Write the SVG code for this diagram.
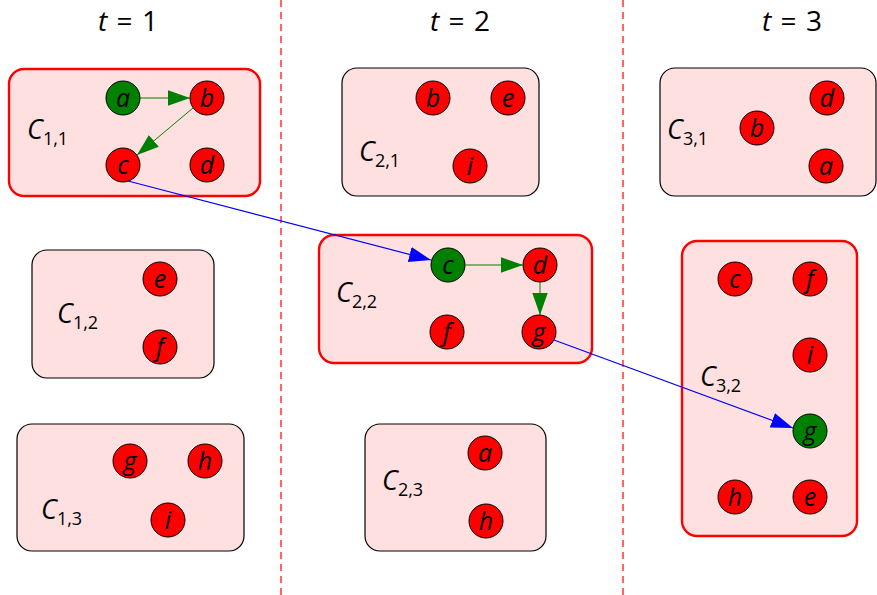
<svg xmlns="http://www.w3.org/2000/svg" width="877" height="595" viewBox="0 0 877 595">
<style>
.bg{fill:#fff}
.box{fill:#ffe0e0;stroke:#000;stroke-width:1.2}
.hl{stroke:#ff0000;stroke-width:2.4}
.n{stroke:#000;stroke-width:1}
.r{fill:#ff0000}
.gr{fill:#008000}
.nt{font-family:"Open Sans","DejaVu Sans",sans-serif;font-style:italic;font-size:25px;text-anchor:middle;fill:#000}
.lb{font-family:"Open Sans","DejaVu Sans",sans-serif;font-size:27px;fill:#000}
.lb tspan.s{font-size:18px;font-style:normal}
.ti{font-family:"Open Sans","DejaVu Sans",sans-serif;font-size:28px;fill:#000;text-anchor:middle}
.div{stroke:#ff0000;stroke-width:1.2;stroke-dasharray:7,5}
.ge{stroke:#008000;stroke-width:1;fill:none}
.be{stroke:#0000ff;stroke-width:1.2;fill:none}
</style>
<defs>
<marker id="ag" viewBox="0 0 10 10" refX="10" refY="5" markerWidth="22" markerHeight="22" markerUnits="userSpaceOnUse" orient="auto"><path d="M0,1.5 L10,5 L0,8.5 z" fill="#008000"/></marker>
<marker id="ab" viewBox="0 0 10 10" refX="10" refY="5" markerWidth="22" markerHeight="22" markerUnits="userSpaceOnUse" orient="auto"><path d="M0,1.5 L10,5 L0,8.5 z" fill="#0000ff"/></marker>
</defs>
<rect class="bg" x="0" y="0" width="877" height="595"/>
<g id="dividers">
<line class="div" x1="281" y1="0" x2="281" y2="595"/>
<line class="div" x1="623" y1="0" x2="623" y2="595"/>
</g>
<g id="titles">
<text class="ti" x="128" y="31"><tspan font-style="italic">t</tspan> <tspan dx="2">=</tspan> <tspan dx="2">1</tspan></text>
<text class="ti" x="460" y="31"><tspan font-style="italic">t</tspan> <tspan dx="2">=</tspan> <tspan dx="2">2</tspan></text>
<text class="ti" x="792" y="31"><tspan font-style="italic">t</tspan> <tspan dx="2">=</tspan> <tspan dx="2">3</tspan></text>
</g>
<g id="C11">
<rect class="box hl" x="9" y="69" width="251" height="127" rx="15"/>
<text class="lb" x="27" y="139"><tspan font-style="italic">C</tspan><tspan class="s" dy="6">1,1</tspan></text>
<circle class="n gr" cx="123" cy="98" r="17"/><text class="nt" x="123" y="107">a</text>
<circle class="n r" cx="207" cy="98" r="17"/><text class="nt" x="207" y="107">b</text>
<circle class="n r" cx="123" cy="165" r="17"/><text class="nt" x="123" y="174">c</text>
<circle class="n r" cx="207" cy="165" r="17"/><text class="nt" x="207" y="174">d</text>
</g>
<g id="C12">
<rect class="box" x="32" y="250" width="182" height="128" rx="15"/>
<text class="lb" x="57" y="323"><tspan font-style="italic">C</tspan><tspan class="s" dy="6">1,2</tspan></text>
<circle class="n r" cx="160" cy="279" r="17"/><text class="nt" x="160" y="288">e</text>
<circle class="n r" cx="160" cy="347" r="17"/><text class="nt" x="160" y="356">f</text>
</g>
<g id="C13">
<rect class="box" x="17" y="424" width="227" height="127" rx="15"/>
<text class="lb" x="41" y="519"><tspan font-style="italic">C</tspan><tspan class="s" dy="6">1,3</tspan></text>
<circle class="n r" cx="130" cy="461" r="17"/><text class="nt" x="130" y="470">g</text>
<circle class="n r" cx="205" cy="461" r="17"/><text class="nt" x="205" y="470">h</text>
<circle class="n r" cx="168" cy="520" r="17"/><text class="nt" x="168" y="529">i</text>
</g>
<g id="C21">
<rect class="box" x="342" y="68" width="197" height="128" rx="15"/>
<text class="lb" x="359" y="161"><tspan font-style="italic">C</tspan><tspan class="s" dy="6">2,1</tspan></text>
<circle class="n r" cx="433" cy="98" r="17"/><text class="nt" x="433" y="107">b</text>
<circle class="n r" cx="508" cy="98" r="17"/><text class="nt" x="508" y="107">e</text>
<circle class="n r" cx="470" cy="166" r="17"/><text class="nt" x="470" y="175">i</text>
</g>
<g id="C22">
<rect class="box hl" x="319" y="235" width="273" height="128" rx="15"/>
<text class="lb" x="336" y="302"><tspan font-style="italic">C</tspan><tspan class="s" dy="6">2,2</tspan></text>
<circle class="n gr" cx="448" cy="265" r="17"/><text class="nt" x="448" y="274">c</text>
<circle class="n r" cx="540" cy="265" r="17"/><text class="nt" x="540" y="274">d</text>
<circle class="n r" cx="447" cy="332" r="17"/><text class="nt" x="447" y="341">f</text>
<circle class="n r" cx="539" cy="332" r="17"/><text class="nt" x="539" y="341">g</text>
</g>
<g id="C23">
<rect class="box" x="365" y="424" width="181" height="127" rx="15"/>
<text class="lb" x="382" y="490"><tspan font-style="italic">C</tspan><tspan class="s" dy="6">2,3</tspan></text>
<circle class="n r" cx="485" cy="453" r="17"/><text class="nt" x="485" y="462">a</text>
<circle class="n r" cx="486" cy="521" r="17"/><text class="nt" x="486" y="530">h</text>
</g>
<g id="C31">
<rect class="box" x="660" y="68" width="216" height="128" rx="15"/>
<text class="lb" x="667" y="139"><tspan font-style="italic">C</tspan><tspan class="s" dy="6">3,1</tspan></text>
<circle class="n r" cx="827" cy="98" r="17"/><text class="nt" x="827" y="107">d</text>
<circle class="n r" cx="757" cy="128" r="17"/><text class="nt" x="757" y="137">b</text>
<circle class="n r" cx="826" cy="166" r="17"/><text class="nt" x="826" y="175">a</text>
</g>
<g id="C32">
<rect class="box hl" x="682" y="241" width="175" height="295" rx="15"/>
<text class="lb" x="700" y="386"><tspan font-style="italic">C</tspan><tspan class="s" dy="6">3,2</tspan></text>
<circle class="n r" cx="735" cy="279" r="17"/><text class="nt" x="735" y="288">c</text>
<circle class="n r" cx="810" cy="279" r="17"/><text class="nt" x="810" y="288">f</text>
<circle class="n r" cx="810" cy="355" r="17"/><text class="nt" x="810" y="364">i</text>
<circle class="n gr" cx="810" cy="431" r="17"/><text class="nt" x="810" y="440">g</text>
<circle class="n r" cx="735" cy="497" r="17"/><text class="nt" x="735" y="506">h</text>
<circle class="n r" cx="810" cy="497" r="17"/><text class="nt" x="810" y="506">e</text>
</g>
<g id="connectors">
<line class="ge" x1="140" y1="98" x2="190" y2="98" marker-end="url(#ag)"/>
<line class="ge" x1="193" y1="108" x2="137" y2="155" marker-end="url(#ag)"/>
<line class="ge" x1="465" y1="265" x2="523" y2="265" marker-end="url(#ag)"/>
<line class="ge" x1="540" y1="282" x2="540" y2="315" marker-end="url(#ag)"/>
<line class="be" x1="128" y1="181" x2="431" y2="260" marker-end="url(#ab)"/>
<line class="be" x1="554" y1="340" x2="793" y2="428" marker-end="url(#ab)"/>
</g>
</svg>
